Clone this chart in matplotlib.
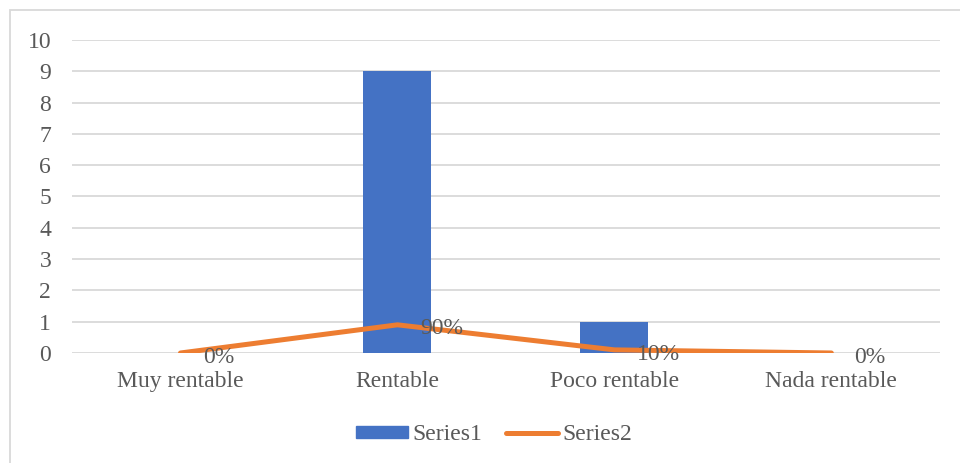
import matplotlib
matplotlib.use("Agg")
import matplotlib.pyplot as plt
from matplotlib.patches import Rectangle
from matplotlib.lines import Line2D
from matplotlib.patches import Patch

categories = ["Muy rentable", "Rentable", "Poco rentable", "Nada rentable"]
series1 = [0, 9, 1, 0]
series2 = [0, 0.9, 0.1, 0]
series2_labels = ["0%", "90%", "10%", "0%"]
yticks = list(range(0, 11))

TXT = "#595959"
GRID = "#d9d9d9"
BLUE = "#4472C4"
ORANGE = "#ED7D31"
FS = 17

plt.rcParams['font.family'] = ['Liberation Serif', 'DejaVu Serif']

fig = plt.figure(figsize=(9.6, 4.63), dpi=100)
ax = fig.add_axes([0.075, 0.2376, 0.904, 0.6760])

x = list(range(len(categories)))
ax.bar(x, series1, width=0.313, color=BLUE, zorder=2)
ax.plot(x, series2, color=ORANGE, linewidth=3.6, solid_capstyle='round',
        solid_joinstyle='round', zorder=3)
for xi, yi, lab in zip(x, series2, series2_labels):
    ax.annotate(lab, (xi, yi), xytext=(16.5, -3), textcoords='offset points',
                ha='left', va='center', fontsize=FS, color=TXT, zorder=4)

ax.set_xlim(-0.5, len(categories) - 0.5)
ax.set_ylim(0, 10)
ax.set_yticks(yticks)
ax.set_yticklabels([str(t) for t in yticks])
ax.set_xticks(x)
ax.set_xticklabels(categories)
ax.tick_params(axis='both', length=0, labelsize=FS, colors=TXT)
ax.tick_params(axis='y', pad=15)
ax.tick_params(axis='x', pad=13)
ax.grid(axis='y', color=GRID, linewidth=1.3, zorder=0)
ax.set_axisbelow(True)
for s in ax.spines.values():
    s.set_visible(False)

handles = [Patch(color=BLUE), Line2D([0], [0], color=ORANGE, linewidth=3.6, solid_capstyle='round')]
leg = fig.legend(handles, ["Series1", "Series2"], loc='center', bbox_to_anchor=(494 / 960, 1 - 435 / 463),
                 ncol=2, frameon=False, fontsize=FS, labelcolor=TXT,
                 handlelength=2.2, handleheight=0.35, handletextpad=0.2, columnspacing=1.0)

fig.patches.append(Rectangle((9.5 / 960, -0.05), 1.2, 1 - 10.5 / 463 + 0.05,
                             transform=fig.transFigure, fill=False,
                             edgecolor=GRID, linewidth=1.3))

fig.savefig("out.png", dpi=100)
